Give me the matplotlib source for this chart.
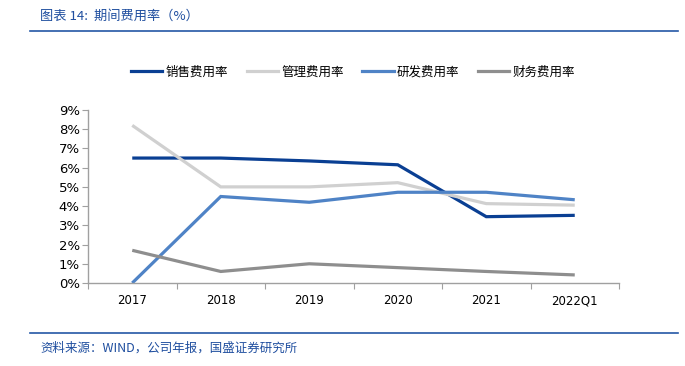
import matplotlib
matplotlib.use("Agg")
import matplotlib.pyplot as plt
from matplotlib.lines import Line2D
import numpy as np

plt.rcParams['font.family'] = ['Noto Sans CJK SC', 'DejaVu Sans']

categories = ['2017', '2018', '2019', '2020', '2021', '2022Q1']
sales = [6.5, 6.5, 6.35, 6.15, 3.45, 3.52]
admin = [8.2, 5.0, 5.0, 5.22, 4.13, 4.05]
rnd = [0.0, 4.5, 4.2, 4.72, 4.72, 4.33]
fin = [1.7, 0.6, 1.0, 0.8, 0.6, 0.42]
series_names = ['销售费用率', '管理费用率', '研发费用率', '财务费用率']
colors = ['#0A3F93', '#D0D0D0', '#4F83C6', '#8E8E8E']
yticks = list(range(0, 10))

fig = plt.figure(figsize=(6.85, 3.66), dpi=100)
ax = fig.add_axes([88/685, 1-283/366, (619-88)/685, (283-110)/366])

x = np.arange(len(categories))
for vals, c in zip([sales, admin, rnd, fin], colors):
    ax.plot(x, vals, color=c, lw=2.3, solid_capstyle='butt', solid_joinstyle='miter')

ax.set_xlim(-0.5, len(categories) - 0.5)
ax.set_ylim(0, 9)
ax.set_yticks(yticks)
ax.set_yticklabels([f'{v}%' for v in yticks], family='DejaVu Sans', fontsize=9.5)
ax.set_xticks(np.arange(-0.5, len(categories), 1.0))
ax.set_xticklabels([])
ax.set_xticks(x, minor=True)
ax.set_xticklabels(categories, minor=True, family='DejaVu Sans', fontsize=8.5)
ax.tick_params(axis='x', which='major', length=4, color='#A0A0A0', direction='out')
ax.tick_params(axis='x', which='minor', length=0, pad=8)
ax.tick_params(axis='y', length=4, color='#A0A0A0', direction='out', pad=2)
for s in ['top', 'right']:
    ax.spines[s].set_visible(False)
for s in ['left', 'bottom']:
    ax.spines[s].set_color('#A0A0A0')
    ax.spines[s].set_linewidth(1.0)

handles = [Line2D([0], [0], color=c, lw=2.3) for c in colors]
fig.legend(handles, series_names, loc='center', bbox_to_anchor=(353/685, 1-72/366),
           ncol=4, frameon=False, fontsize=9, handlelength=2.5, columnspacing=1.5,
           handletextpad=0.25)

title_color = '#1F4E9F'
fig.text(40/685, 1-16/366, '图表 14:  期间费用率（%）', color=title_color, fontsize=9.5,
         style='italic', va='center', ha='left')
fig.add_artist(Line2D([30/685, 678/685], [1-31/366, 1-31/366], color='#2458A6', lw=1.2))
fig.add_artist(Line2D([30/685, 678/685], [1-333/366, 1-333/366], color='#2458A6', lw=1.2))
fig.text(40/685, 1-348/366, '资料来源：WIND，公司年报，国盛证券研究所', color=title_color,
         fontsize=9, style='italic', va='center', ha='left')

fig.savefig('out.png', dpi=100)
